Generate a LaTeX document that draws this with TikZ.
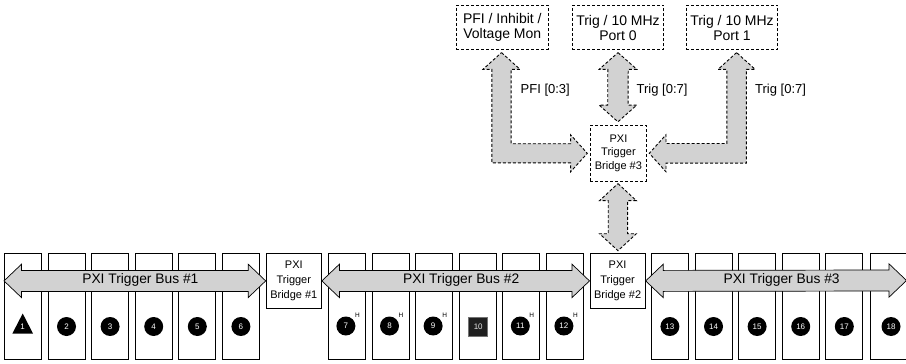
\documentclass[tikz,border=0pt]{standalone}
\usepackage{fontspec}
\setmainfont{Liberation Sans}
\usetikzlibrary{calc}
\definecolor{busgray}{HTML}{D2D2D2}
\newcommand\hdarrow[6]{\draw[#6] (#1) -- ($(#1)+(#5,-#4)$) -- ($(#1)+(#5,-#3)$) -- ($(#2)+(-#5,-#3)$) -- ($(#2)+(-#5,-#4)$) -- (#2) -- ($(#2)+(-#5,#4)$) -- ($(#2)+(-#5,#3)$) -- ($(#1)+(#5,#3)$) -- ($(#1)+(#5,#4)$) -- cycle;}
\newcommand\vdarrow[6]{\draw[#6] (#1) -- ($(#1)+(#4,#5)$) -- ($(#1)+(#3,#5)$) -- ($(#2)+(#3,-#5)$) -- ($(#2)+(#4,-#5)$) -- (#2) -- ($(#2)+(-#4,-#5)$) -- ($(#2)+(-#3,-#5)$) -- ($(#1)+(-#3,#5)$) -- ($(#1)+(-#4,#5)$) -- cycle;}
\newcommand\elbowright[6]{\draw[#6] (#1) -- ($(#1)+(#4,#5)$) -- ($(#1)+(#3,#5)$) -- ($(#1|-#2)+(#3,-#3)$) -- ($(#2)+(-#5,-#3)$) -- ($(#2)+(-#5,-#4)$) -- (#2) -- ($(#2)+(-#5,#4)$) -- ($(#2)+(-#5,#3)$) -- ($(#1|-#2)+(-#3,#3)$) -- ($(#1)+(-#3,#5)$) -- ($(#1)+(-#4,#5)$) -- cycle;}
\newcommand\elbowleft[6]{\draw[#6] (#1) -- ($(#1)+(-#4,#5)$) -- ($(#1)+(-#3,#5)$) -- ($(#1|-#2)+(-#3,-#3)$) -- ($(#2)+(#5,-#3)$) -- ($(#2)+(#5,-#4)$) -- (#2) -- ($(#2)+(#5,#4)$) -- ($(#2)+(#5,#3)$) -- ($(#1|-#2)+(#3,#3)$) -- ($(#1)+(#3,#5)$) -- ($(#1)+(#4,#5)$) -- cycle;}
\begin{document}
\begin{tikzpicture}[x=1pt,y=-1pt,
  slotbox/.style={draw, line width=0.8pt, minimum width=37pt, minimum height=106.6pt, inner sep=0pt, anchor=north west},
  bridgebox/.style={draw, line width=0.8pt, fill=white, minimum width=55.4pt, minimum height=55.6pt, inner sep=0pt, anchor=north west, align=center, font=\fontsize{11}{15}\selectfont},
  dbridge/.style={draw, line width=0.9pt, dash pattern=on 3pt off 2pt, fill=white, minimum width=56pt, minimum height=55.7pt, inner sep=0pt, anchor=north west, align=center, font=\fontsize{11}{13.4}\selectfont},
  topbox/.style={draw, line width=0.9pt, dash pattern=on 3pt off 2pt, fill=white, minimum width=91.7pt, minimum height=44.3pt, inner sep=0pt, anchor=north west, align=center, font=\fontsize{14}{15}\selectfont},
  busarrow/.style={draw, line width=0.7pt, fill=busgray},
  dasharrow/.style={draw, line width=0.9pt, dash pattern=on 3pt off 2pt, fill=busgray},
  buslabel/.style={font=\fontsize{13.8}{16}\selectfont, inner sep=0pt},
  lbl/.style={font=\fontsize{13}{15}\selectfont, inner sep=0pt, anchor=west},
  numc/.style={circle, fill=black, minimum size=19pt, inner sep=0pt, text=white, font=\fontsize{8}{8}\selectfont},
  numsq/.style={draw=black!55, line width=0.6pt, fill=black!88, minimum size=19pt, inner sep=0pt, text=white!90!black, font=\fontsize{8}{8}\selectfont},
  hsup/.style={inner sep=0pt, font=\fontsize{6.5}{7}\selectfont}]
\clip (0,0) rectangle (906,364);
% slots
\foreach \i in {1,...,6}{\pgfmathsetmacro\xx{4+43.6*(\i-1)}\node[slotbox] (s\i) at (\xx,252.7) {};}
\foreach \i in {7,...,12}{\pgfmathsetmacro\xx{328+43.6*(\i-7)}\node[slotbox] (s\i) at (\xx,252.7) {};}
\foreach \i in {13,...,17}{\pgfmathsetmacro\xx{651+43.6*(\i-13)}\node[slotbox] (s\i) at (\xx,252.7) {};}
\node[slotbox, minimum width=42pt] (s18) at (869.6,252.7) {};
% bridges
\node[bridgebox] (br1) at (265.7,252.7) {PXI\\Trigger\\Bridge \#1};
\node[bridgebox] (br2) at (589.5,252.7) {PXI\\Trigger\\Bridge \#2};
\node[dbridge] (br3) at (590,125) {PXI\\Trigger\\Bridge \#3};
% top boxes
\node[topbox] (pfi) at (456,5) {PFI / Inhibit /\\Voltage Mon};
\node[topbox] (p0) at (571.7,5) {Trig / 10 MHz\\Port 0};
\node[topbox] (p1) at (685.7,5) {Trig / 10 MHz\\Port 1};
% bus arrows
\coordinate (b1L) at (s1.west |- br1.west);
\coordinate (b3R) at (906.5,280.5);
\hdarrow{b1L}{br1.west}{10.5}{16.7}{17.5}{busarrow}
\hdarrow{br1.east}{br2.west}{10.5}{16.7}{17.5}{busarrow}
\hdarrow{br2.east}{b3R}{10.5}{16.7}{17.5}{busarrow}
\node[buslabel] (t1) at ($(b1L)!0.5!(br1.west)+(5.5,-1)$) {PXI Trigger Bus \#1};
\node[buslabel] (t2) at ($(br1.east)!0.5!(br2.west)+(5.5,-1)$) {PXI Trigger Bus \#2};
\node[buslabel] (t3) at ($(br2.east)!0.5!(b3R)+(5.5,-1)$) {PXI Trigger Bus \#3};
% dashed arrows
\coordinate (tp) at ($(pfi.south)+(-0.8,2.4)$);
\coordinate (rp) at ($(br3.west)+(-2.7,0)$);
\elbowright{tp}{rp}{9.6}{18.5}{16.7}{dasharrow}
\coordinate (tq) at ($(p1.south)+(4.6,2.4)$);
\coordinate (rq) at ($(br3.east)+(2.4,0)$);
\elbowleft{tq}{rq}{9.8}{18.5}{16.7}{dasharrow}
\coordinate (a0) at ($(p0.south)+(0,2.4)$);
\coordinate (a1) at ($(br3.north)+(-0.5,-3.2)$);
\vdarrow{a0}{a1}{10.2}{18.8}{16.7}{dasharrow}
\coordinate (a2) at ($(br3.south)+(-0.5,2)$);
\coordinate (a3) at ($(a2 |- br2.north)+(0,-2)$);
\vdarrow{a2}{a3}{9.7}{18.4}{17}{dasharrow}
% arrow labels
\node[lbl] (lp) at (520.5,90) {PFI [0:3]};
\node[lbl] (lq) at (636.5,90) {Trig [0:7]};
\node[lbl] (lr) at (755,90) {Trig [0:7]};
% slot markers
\fill (22.7,313.5) -- (33,333.5) -- (12.4,333.5) -- cycle;
\node[inner sep=0pt, text=white, font=\fontsize{8}{8}\selectfont] (n1) at (22.7,327) {1};
\foreach \i in {2,...,6,13,14,15,16,17,18}{\node[numc] (c\i) at ($(s\i.north)+(0,73.8)$) {\i};}
\foreach \i in {7,8,9,11,12}{\node[numc] (c\i) at ($(s\i.north)+(-1,73.3)$) {\i};
  \node[hsup] (h\i) at ($(c\i.center)+(11.5,-10.5)$) {H};}
\node[numsq] (c10) at ($(s10.north)+(0.5,74.5)$) {10};
\end{tikzpicture}
\end{document}
